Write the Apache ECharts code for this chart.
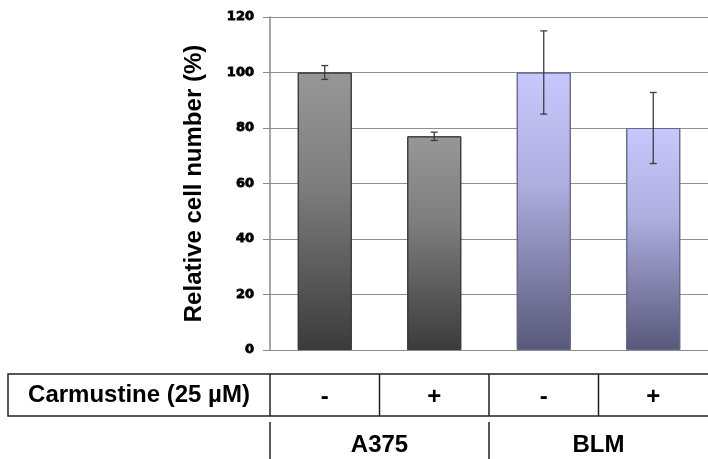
<!DOCTYPE html>
<html>
<head>
<meta charset="utf-8">
<script src="https://cdn.jsdelivr.net/npm/echarts@6/dist/echarts.min.js"></script>
<style>
  html, body { margin: 0; padding: 0; background: #fff; }
  #chart { width: 708px; height: 459px; }
</style>
</head>
<body>
<div id="chart"></div>
<script>
const cellLines = ['A375', 'A375', 'BLM', 'BLM']
const carmustine = ['-', '+', '-', '+']
const categories = cellLines.map((c, i) => c + ' ' + carmustine[i])
const values = [100, 77, 100, 80]
const errors = [2.5, 1.5, 15, 12.8]
const yTicks = [0, 20, 40, 60, 80, 100, 120]
const groups = ['A375', 'BLM']
const rowTitle = 'Carmustine (25 µM)'

const greyFill = new echarts.graphic.LinearGradient(0, 0, 0, 1, [
  { offset: 0, color: '#979797' },
  { offset: 0.4, color: '#7e7e7e' },
  { offset: 1, color: '#3b3b3b' },
])
const blueFill = new echarts.graphic.LinearGradient(0, 0, 0, 1, [
  { offset: 0, color: '#c8c8fc' },
  { offset: 0.4, color: '#aeaee0' },
  { offset: 1, color: '#58587a' },
])

const chart = echarts.init(document.getElementById('chart'))

const boldFont = '"Liberation Sans", Arial, sans-serif'

chart.setOption({
  animation: false,
  backgroundColor: '#fff',
  grid: { left: 270, top: 17, width: 444, height: 333 },
  xAxis: {
    type: 'category',
    data: categories,
    axisLine: { lineStyle: { color: '#8a8a8a', width: 1 } },
    axisTick: { show: false },
    axisLabel: {
      formatter: (v, i) => carmustine[i],
      margin: 47,
      verticalAlign: 'middle',
      color: '#000',
      fontFamily: boldFont,
      fontWeight: 'bold',
      fontSize: 24,
    },
  },
  yAxis: {
    type: 'value',
    min: yTicks[0],
    max: yTicks[yTicks.length - 1],
    interval: yTicks[1] - yTicks[0],
    name: 'Relative cell number (%)',
    nameLocation: 'middle',
    nameRotate: 90,
    nameGap: 64,
    nameTextStyle: {
      color: '#000',
      fontFamily: boldFont,
      fontWeight: 'bold',
      fontSize: 24,
    },
    axisLine: { show: true, lineStyle: { color: '#8a8a8a', width: 1.5 } },
    axisTick: { show: true, length: 7, lineStyle: { color: '#8a8a8a' } },
    axisLabel: {
      margin: 16,
      color: '#000',
      fontFamily: 'DejaVu Sans',
      fontWeight: 'bold',
      fontSize: 13,
      textBorderColor: '#000',
      textBorderWidth: 0.8,
    },
    splitLine: { lineStyle: { color: '#8f8f8f', width: 1 } },
  },
  series: [
    {
      type: 'bar',
      barWidth: 54,
      data: values.map((v, i) => ({
        value: v,
        itemStyle: {
          color: i < 2 ? greyFill : blueFill,
          borderColor: i < 2 ? '#3a3a3a' : '#66668a',
          borderWidth: 1,
        },
      })),
    },
    {
      type: 'custom',
      z: 5,
      data: values.map((v, i) => [i, v - errors[i], v + errors[i]]),
      renderItem: (params, api) => {
        const lo = api.coord([api.value(0), api.value(1)])
        const hi = api.coord([api.value(0), api.value(2)])
        const cap = 3.5
        const style = { stroke: '#3c3c3c', lineWidth: 1.3 }
        return {
          type: 'group',
          children: [
            { type: 'line', shape: { x1: hi[0], y1: hi[1], x2: lo[0], y2: lo[1] }, style },
            { type: 'line', shape: { x1: hi[0] - cap, y1: hi[1], x2: hi[0] + cap, y2: hi[1] }, style },
            { type: 'line', shape: { x1: lo[0] - cap, y1: lo[1], x2: lo[0] + cap, y2: lo[1] }, style },
          ],
        }
      },
    },
  ],
})

// table under the plot, lined up with the category bands
function drawTable() {
  const centers = categories.map((c, i) => chart.convertToPixel({ xAxisIndex: 0 }, i))
  const band = centers[1] - centers[0]
  const edges = [centers[0] - band / 2]
  centers.forEach(c => edges.push(c + band / 2))

  const rowTop = 374
  const rowBottom = 416
  const line = { stroke: '#222', lineWidth: 1.5 }
  const els = []
  els.push({ type: 'rect', shape: { x: 8, y: rowTop, width: 720, height: rowBottom - rowTop }, style: { fill: 'none', ...line } })
  edges.slice(0, 4).forEach(x => {
    els.push({ type: 'line', shape: { x1: x, y1: rowTop, x2: x, y2: rowBottom }, style: line })
  })
  els.push({
    type: 'text',
    x: (8 + edges[0]) / 2,
    y: (rowTop + rowBottom) / 2,
    style: {
      text: rowTitle, fill: '#000', font: 'bold 24px ' + boldFont,
      align: 'center', verticalAlign: 'middle',
    },
  })
  // cell line row
  const groupEdges = [edges[0], edges[2]]
  groupEdges.forEach(x => {
    els.push({ type: 'line', shape: { x1: x, y1: 422, x2: x, y2: 460 }, style: line })
  })
  groups.forEach((g, k) => {
    els.push({
      type: 'text',
      x: edges[2 * k + 1],
      y: 445,
      style: {
        text: g, fill: '#000', font: 'bold 24px ' + boldFont,
        align: 'center', verticalAlign: 'middle',
      },
    })
  })
  chart.setOption({ graphic: els })
}

drawTable()
</script>
</body>
</html>
